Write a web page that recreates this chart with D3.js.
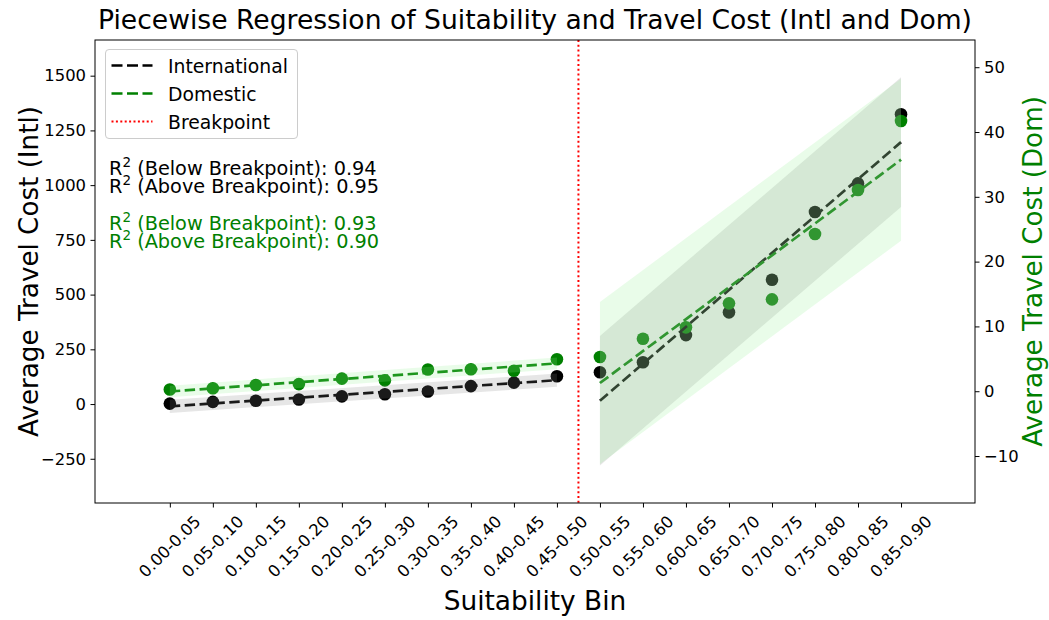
<!DOCTYPE html>
<html><head><meta charset="utf-8">
<script src="https://cdn.jsdelivr.net/npm/d3@7"></script>
<style>body{margin:0;background:#fff} text{font-family:"DejaVu Sans",sans-serif}</style>
</head><body><svg id="c" width="1049" height="620"></svg>
<script>
const bins = ["0.00-0.05","0.05-0.10","0.10-0.15","0.15-0.20","0.20-0.25","0.25-0.30","0.30-0.35","0.35-0.40","0.40-0.45","0.45-0.50","0.50-0.55","0.55-0.60","0.60-0.65","0.65-0.70","0.70-0.75","0.75-0.80","0.80-0.85","0.85-0.90"];
const intlCost = [2,10,15,21,35,45,57,82,98,127,145,191,315,419,568,877,1008,1324];
const domCost = [0.26,0.46,0.96,1.1,1.94,1.68,3.36,3.4,3.16,4.93,5.28,8.1,9.86,13.56,14.18,24.26,31.05,41.7];
const breakpointPos = 9.5;
const intlBandHalf = [30, 296];   // below, above
const domBandHalf = [0.9, 12.5];  // below, above
const intlTicks = [-250,0,250,500,750,1000,1250,1500];
const domTicks = [-10,0,10,20,30,40,50];
const r2Intl = ["0.94","0.95"];
const r2Dom = ["0.93","0.90"];
const legendLabels = ["International","Domestic","Breakpoint"];

const svg = d3.select("#c");
const L=95, R=975, T=40, B=503;
const x = d3.scaleLinear().domain([-1.74,18.72]).range([L,R]);
const yI = d3.scaleLinear().domain([-452,1663]).range([B,T]);
const yD = d3.scaleLinear().domain([-17.25,54.2]).range([B,T]);

const idx = bins.map((d,i)=>i);
function fit(xs, ys){
  const mx=d3.mean(xs), my=d3.mean(ys);
  const s=d3.sum(xs,(v,i)=>(v-mx)*(ys[i]-my))/d3.sum(xs,v=>(v-mx)*(v-mx));
  return {a:my-s*mx, b:s};
}
const below = idx.filter(i=>i<breakpointPos), above = idx.filter(i=>i>breakpointPos);
const segs = [below, above];

svg.append("defs").append("clipPath").attr("id","pc").append("rect")
  .attr("x",L).attr("y",T).attr("width",R-L).attr("height",B-T);
const g = svg.append("g").attr("clip-path","url(#pc)");

// points
g.selectAll(".pi").data(idx).enter().append("circle")
  .attr("cx",i=>x(i)).attr("cy",i=>yI(intlCost[i])).attr("r",6.3)
  .attr("fill","#000");
g.selectAll(".pd").data(idx).enter().append("circle")
  .attr("cx",i=>x(i)).attr("cy",i=>yD(domCost[i])).attr("r",6.3)
  .attr("fill","#008000");

// fits and bands
const fits = segs.map(s=>({s,
  fi:fit(s, s.map(i=>intlCost[i])),
  fd:fit(s, s.map(i=>domCost[i]))}));
fits.forEach((f,k)=>{
  const x0=d3.min(f.s), x1=d3.max(f.s);
  g.append("line").attr("x1",x(x0)).attr("x2",x(x1))
    .attr("y1",yI(f.fi.a+f.fi.b*x0)).attr("y2",yI(f.fi.a+f.fi.b*x1))
    .attr("stroke","#000").attr("stroke-width",2.7).attr("stroke-dasharray","10.4,4.5");
  g.append("line").attr("x1",x(x0)).attr("x2",x(x1))
    .attr("y1",yD(f.fd.a+f.fd.b*x0)).attr("y2",yD(f.fd.a+f.fd.b*x1))
    .attr("stroke","#008000").attr("stroke-width",2.7).attr("stroke-dasharray","10.4,4.5");
});
fits.forEach((f,k)=>{
  const x0=d3.min(f.s), x1=d3.max(f.s);
  const area = (sc,ft,h)=>d3.area().x(v=>x(v)).y0(v=>sc(ft.a+ft.b*v-h)).y1(v=>sc(ft.a+ft.b*v+h))([x0,x1]);
  g.append("path").attr("d",area(yI,f.fi,intlBandHalf[k])).attr("fill","#808080").attr("fill-opacity",0.2);
  g.append("path").attr("d",area(yD,f.fd,domBandHalf[k])).attr("fill","#90ee90").attr("fill-opacity",0.2);
});

// breakpoint
g.append("line").attr("x1",x(breakpointPos)).attr("x2",x(breakpointPos)).attr("y1",T).attr("y2",B)
  .attr("stroke","#ff0000").attr("stroke-width",2).attr("stroke-dasharray","2,2.8");

// frame
svg.append("rect").attr("x",L).attr("y",T).attr("width",R-L).attr("height",B-T)
  .attr("fill","none").attr("stroke","#000").attr("stroke-width",1);

// axes
const fmt = d=>d<0?"\u2212"+Math.abs(d):d;
const axL = svg.append("g").attr("transform",`translate(${L},0)`)
  .call(d3.axisLeft(yI).tickValues(intlTicks).tickSize(4.5).tickPadding(4.5).tickFormat(fmt));
const axR = svg.append("g").attr("transform",`translate(${R},0)`)
  .call(d3.axisRight(yD).tickValues(domTicks).tickSize(4.5).tickPadding(4.5).tickFormat(fmt));
const axB = svg.append("g").attr("transform",`translate(0,${B})`)
  .call(d3.axisBottom(x).tickValues(idx).tickSize(4.5).tickFormat(""));
[axL,axR,axB].forEach(a=>{
  a.select(".domain").remove();
  a.selectAll(".tick line").attr("stroke","#000").attr("stroke-width",1);
  a.selectAll("text").attr("font-size",16.4).attr("fill","#000").attr("font-family","DejaVu Sans");
});
// rotated x labels (rotated bbox centred under tick)
const xl = svg.append("g");
idx.forEach(i=>{
  const t = xl.append("text").text(bins[i]).attr("font-size",16.4).attr("fill","#000")
    .attr("text-anchor","middle").attr("dominant-baseline","central");
  const w = t.node().getComputedTextLength();
  const H = (w+19)*Math.SQRT1_2;
  t.attr("transform",`translate(${x(i)},${B+9+H/2}) rotate(-45)`);
});

// titles
svg.append("text").attr("x",535).attr("y",29).attr("text-anchor","middle").attr("font-size",26.6)
  .text("Piecewise Regression of Suitability and Travel Cost (Intl and Dom)");
svg.append("text").attr("x",535).attr("y",610).attr("text-anchor","middle").attr("font-size",26.4)
  .text("Suitability Bin");
svg.append("text").attr("transform",`translate(38,${(T+B)/2}) rotate(-90)`).attr("text-anchor","middle").attr("font-size",26.2)
  .text("Average Travel Cost (Intl)");
svg.append("text").attr("transform",`translate(1042,${(T+B)/2}) rotate(-90)`).attr("text-anchor","middle").attr("font-size",26.2)
  .attr("fill","#008000").text("Average Travel Cost (Dom)");

// legend
const lg = svg.append("g");
lg.append("rect").attr("x",105.5).attr("y",49.5).attr("width",192).attr("height",89).attr("rx",3.5)
  .attr("fill","#fff").attr("fill-opacity",0.8).attr("stroke","#cccccc");
const lstyles = [{c:"#000",d:"11,4.5",w:2.7},{c:"#008000",d:"11,4.5",w:2.7},{c:"#ff0000",d:"2,2.4",w:1.8}];
legendLabels.forEach((s,k)=>{
  const yy = 65.5+28*k;
  lg.append("line").attr("x1",111.5).attr("x2",152.5).attr("y1",yy).attr("y2",yy)
    .attr("stroke",lstyles[k].c).attr("stroke-width",lstyles[k].w).attr("stroke-dasharray",lstyles[k].d);
  lg.append("text").attr("x",168).attr("y",yy+7).attr("font-size",18.8).text(s);
});

// R2 annotations: one two-line text block per series
function r2block(yy, vals, col){
  const t = svg.append("text").attr("x",109).attr("y",yy).attr("font-size",19.3).attr("fill",col);
  ["Below","Above"].forEach((label,k)=>{
    t.append("tspan").attr("x",109).attr("y",yy+18*k).text("R");
    t.append("tspan").attr("font-size",13.5).attr("dy",-8).text("2");
    t.append("tspan").attr("dy",8).text(" ("+label+" Breakpoint): "+vals[k]);
  });
}
r2block(175, r2Intl, "#000");
r2block(230, r2Dom, "#008000");
</script></body></html>
